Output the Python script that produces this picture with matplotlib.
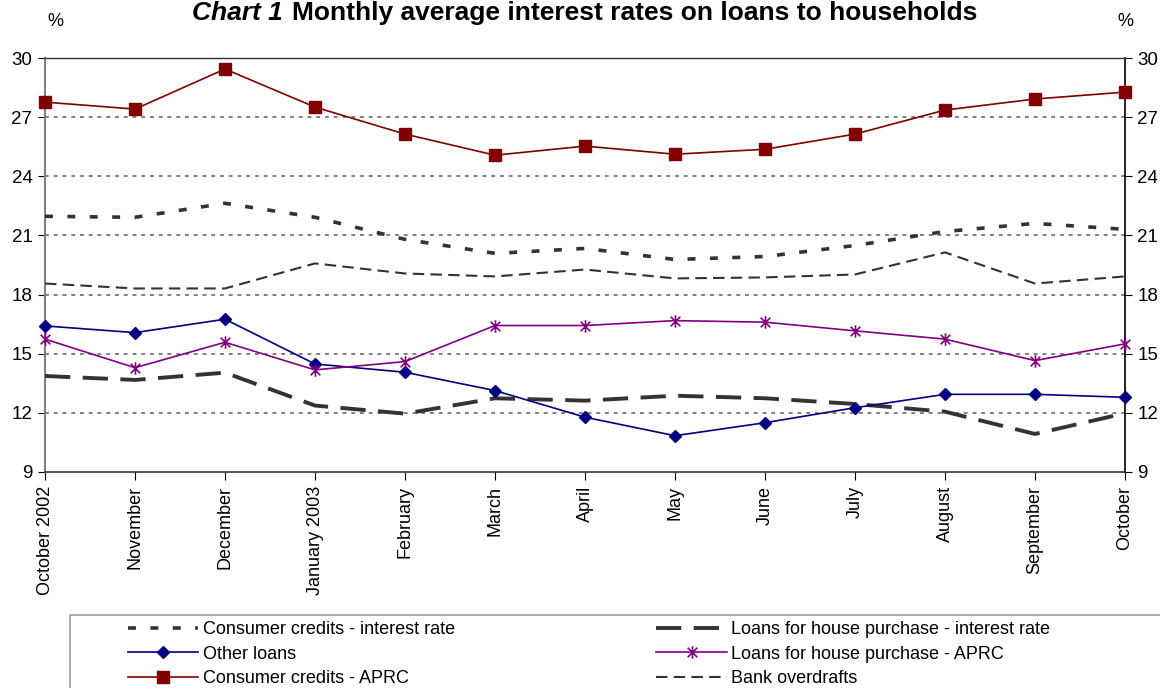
import matplotlib.pyplot as plt
import numpy as np
from matplotlib.path import Path
from matplotlib.patches import Rectangle

plt.rcParams['font.family'] = ['Liberation Sans', 'DejaVu Sans']

months = ["October 2002", "November", "December", "January 2003", "February",
          "March", "April", "May", "June", "July", "August", "September", "October"]

consumer_ir = [21.97, 21.92, 22.63, 21.92, 20.80, 20.09, 20.34, 19.78, 19.93, 20.49, 21.20, 21.61, 21.31]
house_ir = [13.87, 13.67, 14.04, 12.37, 11.96, 12.74, 12.62, 12.87, 12.74, 12.45, 12.06, 10.93, 11.98]
other_loans = [16.41, 16.07, 16.75, 14.48, 14.06, 13.13, 11.78, 10.84, 11.50, 12.26, 12.94, 12.94, 12.79]
house_aprc = [15.74, 14.29, 15.58, 14.18, 14.60, 16.43, 16.43, 16.68, 16.60, 16.16, 15.74, 14.65, 15.50]
consumer_aprc = [27.76, 27.41, 29.44, 27.51, 26.14, 25.07, 25.53, 25.12, 25.37, 26.14, 27.36, 27.92, 28.27]
overdrafts = [18.56, 18.31, 18.31, 19.58, 19.07, 18.92, 19.27, 18.82, 18.87, 19.02, 20.14, 18.56, 18.92]

yticks = [9, 12, 15, 18, 21, 24, 27, 30]

# asterisk marker: x plus vertical bar
star = Path([(-1, -1), (1, 1), (-1, 1), (1, -1), (0, -1.3), (0, 1.3)],
            [Path.MOVETO, Path.LINETO, Path.MOVETO, Path.LINETO, Path.MOVETO, Path.LINETO])

W, H = 1160, 688
fig = plt.figure(figsize=(W / 100, H / 100), dpi=100)
ax = fig.add_axes([45 / W, 1 - 472 / H, (1125 - 45) / W, (472 - 58) / H])

x = np.arange(len(months))

for y in yticks[1:]:
    ax.axhline(y, color="#808080", lw=1.4, dashes=(2, 2.5), zorder=1)

l1, = ax.plot(x, consumer_ir, color="#333333", lw=2.6, dashes=(2.2, 4.0), zorder=3,
              label="Consumer credits - interest rate")
l6, = ax.plot(x, overdrafts, color="#333333", lw=1.5, dashes=(5.5, 3), zorder=3,
              label="Bank overdrafts")
l4, = ax.plot(x, house_ir, color="#333333", lw=2.8, dashes=(6.5, 3.2), zorder=3,
              label="Loans for house purchase - interest rate")
l2, = ax.plot(x, other_loans, color="#000080", lw=1.2, marker="D", ms=6.5, zorder=4,
              clip_on=False, label="Other loans")
l5, = ax.plot(x, house_aprc, color="#800080", lw=1.2, marker=star, ms=9, mew=1.2,
              mfc="none", zorder=4, clip_on=False, label="Loans for house purchase - APRC")
l3, = ax.plot(x, consumer_aprc, color="#800000", lw=1.2, marker="s", ms=8, zorder=4,
              clip_on=False, label="Consumer credits - APRC")

ax.set_xlim(0, len(months) - 1)
ax.set_ylim(9, 30)
ax.set_yticks(yticks)
ax.set_xticks(x)
ax.set_xticklabels(months, rotation=90, fontsize=13)
ax.tick_params(axis="y", labelsize=13.5, direction="out", length=5, left=True, right=True,
               labelleft=True, labelright=True, pad=4)
ax.tick_params(axis="x", direction="out", length=6, pad=4)
for lab in ax.get_xticklabels():
    lab.set_va("top")

ax.spines["left"].set_color("#808080")
ax.spines["left"].set_linewidth(1.5)
ax.spines["bottom"].set_color("#333333")
ax.spines["bottom"].set_linewidth(1.2)
ax.spines["right"].set_color("black")
ax.spines["right"].set_linewidth(1.2)
ax.spines["top"].set_color("#333333")
ax.spines["top"].set_linewidth(1.0)

# title sits at the very top edge, as in the source chart
fig.text(283 / W, 1 - 20 / H, "Chart 1", fontsize=19, fontweight="bold", style="italic",
         ha="right", va="baseline")
fig.text(292 / W, 1 - 20 / H, "Monthly average interest rates on loans to households",
         fontsize=19, fontweight="bold", ha="left", va="baseline")
fig.text(55 / W, 1 - 22 / H, "%", fontsize=13, ha="center", va="center")
fig.text(1125 / W, 1 - 22 / H, "%", fontsize=13, ha="center", va="center")

fig.patches.append(Rectangle((70 / W, -0.05), 1.2, (1 - 615 / H) + 0.05,
                             transform=fig.transFigure, fill=False, edgecolor="#a0a0a0",
                             lw=1.2))
fig.legend(handles=[l1, l2, l3, l4, l5, l6], ncol=2, loc="upper left",
           bbox_to_anchor=(128 / W, 1 - 621 / H), frameon=False, fontsize=13,
           handlelength=3.9, handletextpad=0.25, columnspacing=11.15,
           borderpad=0, borderaxespad=0, labelspacing=0.42)

fig.savefig("out.png", dpi=100)
